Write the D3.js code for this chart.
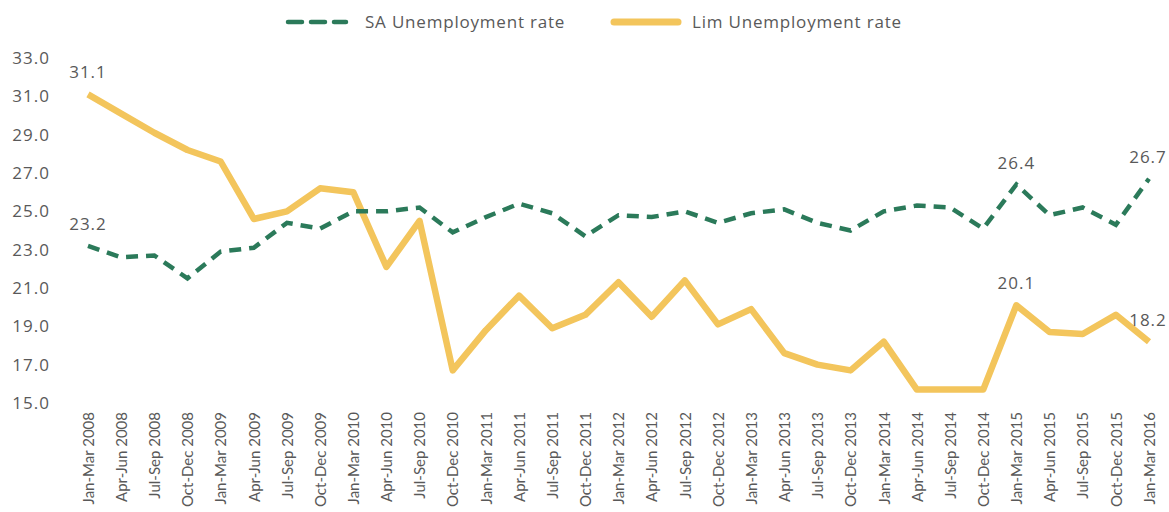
<!DOCTYPE html>
<html>
<head>
<meta charset="utf-8">
<script src="https://cdn.jsdelivr.net/npm/d3@7"></script>
<style>
  body { margin: 0; background: #fff; }
  svg text { fill: #595959; }
</style>
</head>
<body>
<div id="chart"></div>
<script>
// quarters, Jan-Mar 2008 .. Jan-Mar 2016
const quarters = [
  "Jan-Mar 2008", "Apr-Jun 2008", "Jul-Sep 2008", "Oct-Dec 2008",
  "Jan-Mar 2009", "Apr-Jun 2009", "Jul-Sep 2009", "Oct-Dec 2009",
  "Jan-Mar 2010", "Apr-Jun 2010", "Jul-Sep 2010", "Oct-Dec 2010",
  "Jan-Mar 2011", "Apr-Jun 2011", "Jul-Sep 2011", "Oct-Dec 2011",
  "Jan-Mar 2012", "Apr-Jun 2012", "Jul-Sep 2012", "Oct-Dec 2012",
  "Jan-Mar 2013", "Apr-Jun 2013", "Jul-Sep 2013", "Oct-Dec 2013",
  "Jan-Mar 2014", "Apr-Jun 2014", "Jul-Sep 2014", "Oct-Dec 2014",
  "Jan-Mar 2015", "Apr-Jun 2015", "Jul-Sep 2015", "Oct-Dec 2015",
  "Jan-Mar 2016"
];

const saRate = [
  23.2, 22.6, 22.7, 21.5, 22.9, 23.1, 24.4, 24.1,
  25.0, 25.0, 25.2, 23.9, 24.7, 25.4, 24.9, 23.7,
  24.8, 24.7, 25.0, 24.4, 24.9, 25.1, 24.4, 24.0,
  25.0, 25.3, 25.2, 24.1, 26.4, 24.8, 25.2, 24.3,
  26.7
];

const limRate = [
  31.1, 30.1, 29.1, 28.2, 27.6, 24.6, 25.0, 26.2,
  26.0, 22.1, 24.5, 16.7, 18.8, 20.6, 18.9, 19.6,
  21.3, 19.5, 21.4, 19.1, 19.9, 17.6, 17.0, 16.7,
  18.2, 15.7, 15.7, 15.7, 20.1, 18.7, 18.6, 19.6,
  18.2
];

const yTicks = [15, 17, 19, 21, 23, 25, 27, 29, 31, 33];

// which points get a value label
const saLabelIdx = [0, 28, 32];
const limLabelIdx = [0, 28, 32];

const width = 1169, height = 512;
const green = "#2b7a5a";
const yellow = "#f3c55c";
const labelFont = "'Open Sans', sans-serif";

const svg = d3.select("#chart").append("svg")
  .attr("width", width)
  .attr("height", height);

const x = d3.scalePoint().domain(quarters).range([88, 1149]);
const y = d3.scaleLinear().domain([15, 33]).range([403, 58]);

// y axis (labels only)
const yAxis = svg.append("g")
  .attr("transform", "translate(50,0)")
  .call(d3.axisLeft(y).tickValues(yTicks).tickFormat(d3.format(".1f")).tickSize(0));
yAxis.select(".domain").remove();
yAxis.selectAll("text")
  .attr("x", 0)
  .style("font-family", labelFont)
  .style("font-size", "17px")
  .style("letter-spacing", "1px")
  .style("fill", "#595959");

// x axis, rotated labels
const xAxis = svg.append("g")
  .attr("transform", "translate(0,412)")
  .call(d3.axisBottom(x).tickSize(0));
xAxis.select(".domain").remove();
xAxis.selectAll("text")
  .attr("transform", "rotate(-90)")
  .attr("x", 0)
  .attr("y", 0)
  .attr("dy", "0.35em")
  .attr("text-anchor", "end")
  .style("font-family", "Lato, sans-serif")
  .style("font-size", "15px")
  .style("fill", "#595959");

const line = d3.line()
  .x((d, i) => x(quarters[i]))
  .y(d => y(d));

svg.append("path")
  .datum(limRate)
  .attr("fill", "none")
  .attr("stroke", yellow)
  .attr("stroke-width", 6.5)
  .attr("stroke-linejoin", "round")
  .attr("d", line);

svg.append("path")
  .datum(saRate)
  .attr("fill", "none")
  .attr("stroke", green)
  .attr("stroke-width", 4.5)
  .attr("stroke-dasharray", "12,8")
  .attr("d", line);

// value labels
function addLabels(values, idx) {
  svg.append("g").selectAll("text")
    .data(idx)
    .enter()
    .append("text")
    .attr("x", i => x(quarters[i]) - (i === quarters.length - 1 ? 1 : 0))
    .attr("y", i => y(values[i]) - 16)
    .attr("text-anchor", "middle")
    .style("font-family", labelFont)
    .style("font-size", "17px")
    .style("letter-spacing", "1px")
    .style("fill", "#595959")
    .text(i => values[i].toFixed(1));
}
addLabels(saRate, saLabelIdx);
addLabels(limRate, limLabelIdx);

// legend
const legend = svg.append("g").attr("transform", "translate(0,22)");
const legendItems = [
  { name: "SA Unemployment rate", color: green, w: 4.5, dash: "14,9", x0: 288, x1: 346, tx: 365 },
  { name: "Lim Unemployment rate", color: yellow, w: 7, dash: null, x0: 614, x1: 678, tx: 692 }
];
legendItems.forEach(d => {
  legend.append("line")
    .attr("x1", d.x0).attr("x2", d.x1)
    .attr("y1", 0).attr("y2", 0)
    .attr("stroke", d.color)
    .attr("stroke-width", d.w)
    .attr("stroke-linecap", "round")
    .attr("stroke-dasharray", d.dash);
  legend.append("text")
    .attr("x", d.tx)
    .attr("y", 0)
    .attr("dy", "0.35em")
    .style("font-family", labelFont)
    .style("font-size", "17px")
    .style("letter-spacing", "0.8px")
    .style("fill", "#595959")
    .text(d.name);
});
</script>
</body>
</html>
